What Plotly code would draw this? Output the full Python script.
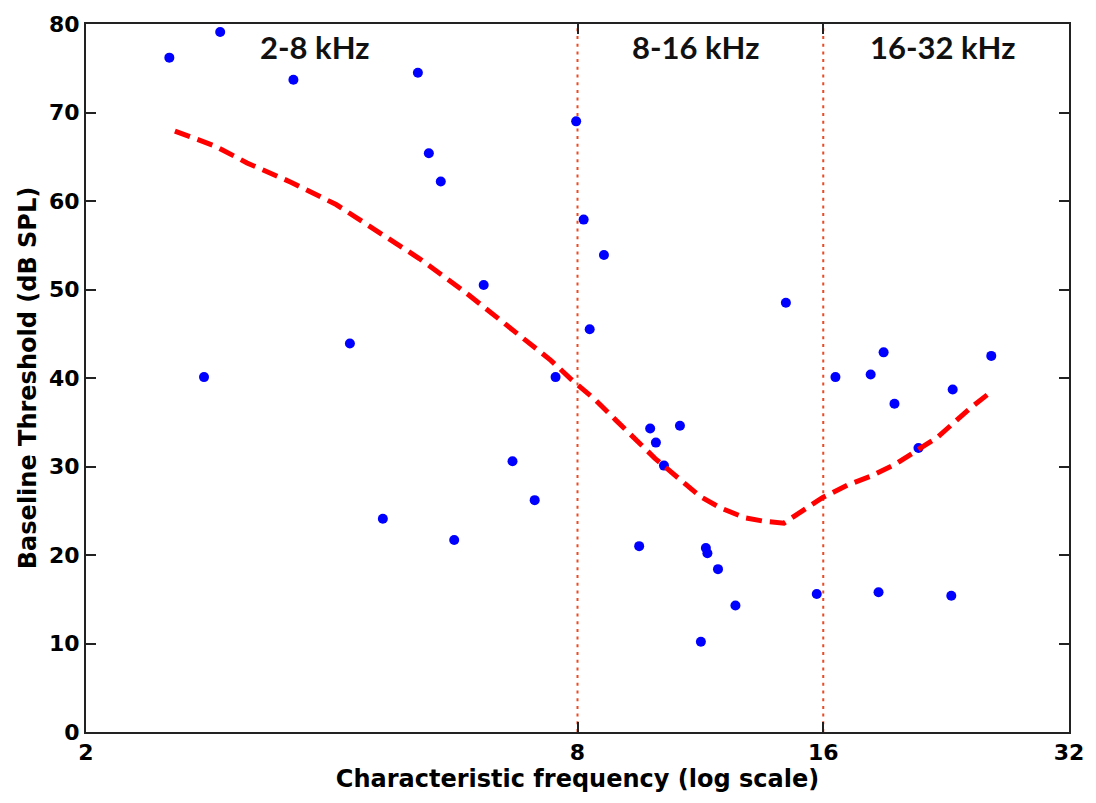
import plotly.graph_objects as go

# Unit characteristic frequencies (kHz) and baseline thresholds (dB SPL)
cf_khz = [2.53, 2.79, 2.92, 3.59, 4.21, 4.62, 5.10, 5.26, 5.44, 5.65,
          6.14, 6.66, 7.09, 7.52, 7.97, 8.14, 8.28, 8.62, 9.52, 9.82,
          9.98, 10.21, 10.68, 11.33, 11.49, 11.54, 11.89, 12.49, 14.40, 15.71,
          16.56, 18.29, 18.70, 18.97, 19.56, 20.93, 22.96, 23.05, 25.70]
threshold_db = [76.2, 40.1, 79.1, 73.7, 43.9, 24.1, 74.5, 65.4, 62.2, 21.7,
                50.5, 30.6, 26.2, 40.1, 69.0, 57.9, 45.5, 53.9, 21.0, 34.3,
                32.7, 30.1, 34.6, 10.2, 20.8, 20.2, 18.4, 14.3, 48.5, 15.6,
                40.1, 40.4, 15.8, 42.9, 37.1, 32.1, 15.4, 38.7, 42.5]

# Smoothed trend of threshold versus frequency
trend_khz = [2.57, 2.88, 3.15, 3.57, 4.05, 4.55, 5.12, 5.81, 6.55, 7.42,
             7.87, 8.42, 8.90, 9.42, 9.96, 10.63, 11.31, 11.99, 12.83, 13.57,
             14.32, 15.32, 15.98, 17.14, 18.29, 19.56, 20.87, 22.08, 23.16, 24.22,
             25.41]
trend_db = [67.9, 66.2, 64.3, 62.1, 59.6, 56.6, 53.5, 49.8, 45.9, 42.0,
            39.8, 37.5, 35.3, 33.1, 30.9, 28.7, 26.6, 25.3, 24.2, 23.8,
            23.6, 25.4, 26.5, 27.9, 28.9, 30.2, 31.9, 33.3, 35.0, 36.6,
            38.1]

# Octave band boundaries and labels
band_edges_khz = [8, 16]
band_labels = ["2-8 kHz", "8-16 kHz", "16-32 kHz"]
band_label_x = [0.2323, 0.6197, 0.8712]

x_ticks = [2, 8, 16, 32]
y_ticks = [0, 10, 20, 30, 40, 50, 60, 70, 80]
y_range = [0, 80]

fig = go.Figure()

for edge in band_edges_khz:
    fig.add_trace(go.Scatter(
        x=[edge, edge], y=y_range, mode="lines",
        line=dict(color="#ec4a24", width=2, dash="3px,4.7px"),
        showlegend=False, hoverinfo="skip"))

fig.add_trace(go.Scatter(
    x=cf_khz, y=threshold_db, mode="markers",
    marker=dict(color="#0000ff", size=10, line=dict(width=0)),
    showlegend=False))

fig.add_trace(go.Scatter(
    x=trend_khz, y=trend_db, mode="lines",
    line=dict(color="#ff0000", width=5, dash="16px,8px"),
    showlegend=False))

for label, xpos in zip(band_labels, band_label_x):
    fig.add_annotation(
        x=xpos, y=0.967, xref="paper", yref="paper", text=label,
        showarrow=False, xanchor="center", yanchor="middle",
        font=dict(family="Lato", size=31, color="#111111", weight="bold"))

title_font = dict(family="DejaVu Sans", size=24, color="#000000", weight="bold")

axis_common = dict(
    showgrid=False, zeroline=False, showline=True, mirror="ticks",
    linecolor="#222222", linewidth=2, ticks="inside", ticklen=10,
    tickwidth=1.5, tickcolor="#222222",
    tickfont=dict(family="DejaVu Sans", size=22, color="#000000", weight="bold"),
)

fig.update_xaxes(
    type="log", range=[0.30103, 1.50515],
    tickvals=x_ticks, ticktext=[str(t) for t in x_ticks],
    title=dict(text="Characteristic frequency (log scale)", standoff=2, font=title_font),
    **axis_common)
fig.update_yaxes(
    range=y_range, tickvals=y_ticks,
    title=dict(text="Baseline Threshold (dB SPL)", standoff=6, font=title_font),
    **axis_common)

fig.update_layout(
    width=1096, height=803,
    margin=dict(l=86, r=24, t=23, b=71),
    plot_bgcolor="white", paper_bgcolor="white",
)

fig.write_html("out.html")
